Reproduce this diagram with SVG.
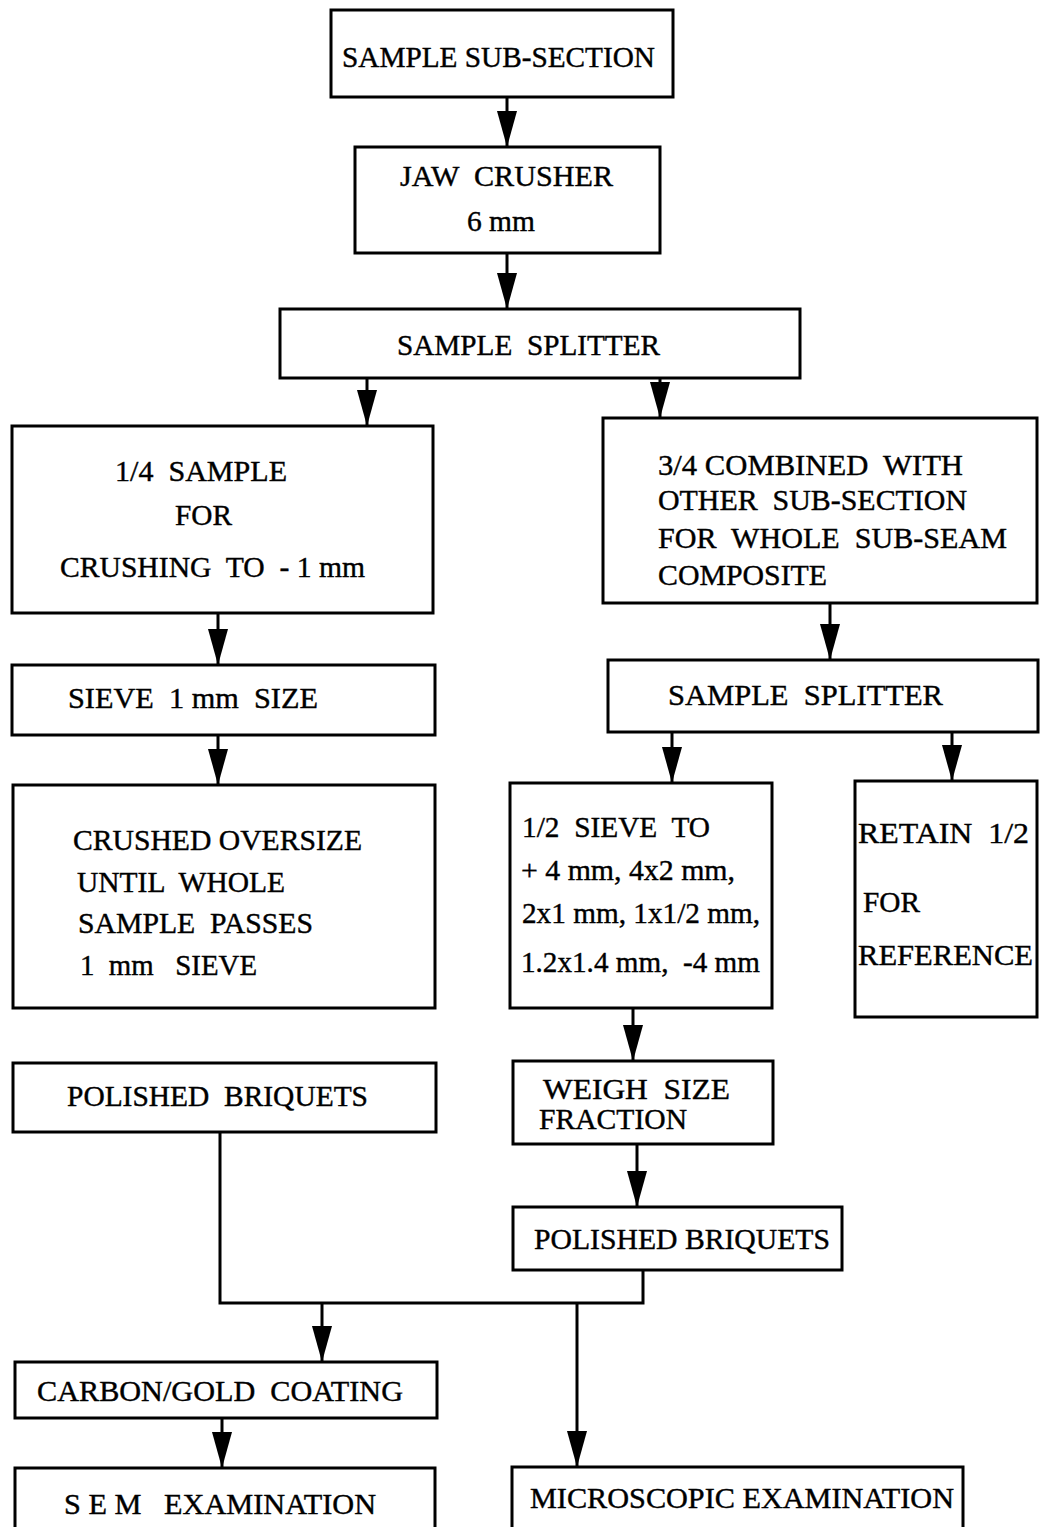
<svg xmlns="http://www.w3.org/2000/svg" width="1041" height="1527" viewBox="0 0 1041 1527">
<style>
  .box { fill: #fff; stroke: #000; stroke-width: 3; }
  .t { font-family: "Liberation Serif", "Times New Roman", serif; font-size: 30px; fill: #000; stroke: #000; stroke-width: 0.4; white-space: pre; }
  .con { fill: none; stroke: #000; stroke-width: 3; }
</style>
<defs>
  <marker id="ah" viewBox="0 0 36 20" refX="36" refY="10" markerWidth="36" markerHeight="20" markerUnits="userSpaceOnUse" orient="auto">
    <path d="M0,0 L36,10 L0,20 z" fill="#000"/>
  </marker>
</defs>
<rect width="1041" height="1527" fill="#fff"/>

<g id="connectors">
  <line class="con" x1="507" y1="97" x2="507" y2="147" marker-end="url(#ah)"/>
  <line class="con" x1="507" y1="253" x2="507" y2="309" marker-end="url(#ah)"/>
  <line class="con" x1="367" y1="378" x2="367" y2="426" marker-end="url(#ah)"/>
  <line class="con" x1="660" y1="378" x2="660" y2="418" marker-end="url(#ah)"/>
  <line class="con" x1="218" y1="613" x2="218" y2="665" marker-end="url(#ah)"/>
  <line class="con" x1="830" y1="603" x2="830" y2="660" marker-end="url(#ah)"/>
  <line class="con" x1="218" y1="735" x2="218" y2="785" marker-end="url(#ah)"/>
  <line class="con" x1="672" y1="732" x2="672" y2="783" marker-end="url(#ah)"/>
  <line class="con" x1="952" y1="732" x2="952" y2="781" marker-end="url(#ah)"/>
  <line class="con" x1="633" y1="1008" x2="633" y2="1061" marker-end="url(#ah)"/>
  <line class="con" x1="637" y1="1144" x2="637" y2="1207" marker-end="url(#ah)"/>
  <polyline class="con" points="220,1132 220,1303 643,1303 643,1270"/>
  <line class="con" x1="322" y1="1303" x2="322" y2="1362" marker-end="url(#ah)"/>
  <line class="con" x1="577" y1="1303" x2="577" y2="1467" marker-end="url(#ah)"/>
  <line class="con" x1="222" y1="1418" x2="222" y2="1468" marker-end="url(#ah)"/>
</g>

<g id="sample-sub-section">
  <rect class="box" x="331" y="10" width="342" height="87"/>
  <text class="t" x="342" y="67" textLength="313" lengthAdjust="spacingAndGlyphs">SAMPLE SUB-SECTION</text>
</g>
<g id="jaw-crusher">
  <rect class="box" x="355" y="147" width="305" height="106"/>
  <text class="t" x="400" y="186" textLength="213" lengthAdjust="spacingAndGlyphs">JAW  CRUSHER</text>
  <text class="t" x="467" y="231" textLength="68" lengthAdjust="spacingAndGlyphs">6 mm</text>
</g>
<g id="sample-splitter-1">
  <rect class="box" x="280" y="309" width="520" height="69"/>
  <text class="t" x="397" y="355" textLength="263" lengthAdjust="spacingAndGlyphs">SAMPLE  SPLITTER</text>
</g>
<g id="quarter-sample">
  <rect class="box" x="12" y="426" width="421" height="187"/>
  <text class="t" x="115" y="481" textLength="172" lengthAdjust="spacingAndGlyphs">1/4  SAMPLE</text>
  <text class="t" x="175" y="525" textLength="57" lengthAdjust="spacingAndGlyphs">FOR</text>
  <text class="t" x="60" y="577" textLength="305" lengthAdjust="spacingAndGlyphs">CRUSHING  TO  - 1 mm</text>
</g>
<g id="three-quarter">
  <rect class="box" x="603" y="418" width="434" height="185"/>
  <text class="t" x="658" y="475" textLength="305" lengthAdjust="spacingAndGlyphs">3/4 COMBINED  WITH</text>
  <text class="t" x="658" y="510" textLength="309" lengthAdjust="spacingAndGlyphs">OTHER  SUB-SECTION</text>
  <text class="t" x="658" y="548" textLength="349" lengthAdjust="spacingAndGlyphs">FOR  WHOLE  SUB-SEAM</text>
  <text class="t" x="658" y="585" textLength="169" lengthAdjust="spacingAndGlyphs">COMPOSITE</text>
</g>
<g id="sieve-1mm">
  <rect class="box" x="12" y="665" width="423" height="70"/>
  <text class="t" x="68" y="708" textLength="250" lengthAdjust="spacingAndGlyphs">SIEVE  1 mm  SIZE</text>
</g>
<g id="sample-splitter-2">
  <rect class="box" x="608" y="660" width="430" height="72"/>
  <text class="t" x="668" y="705" textLength="275" lengthAdjust="spacingAndGlyphs">SAMPLE  SPLITTER</text>
</g>
<g id="crushed-oversize">
  <rect class="box" x="13" y="785" width="422" height="223"/>
  <text class="t" x="73" y="850" textLength="289" lengthAdjust="spacingAndGlyphs">CRUSHED OVERSIZE</text>
  <text class="t" x="77" y="892" textLength="208" lengthAdjust="spacingAndGlyphs">UNTIL  WHOLE</text>
  <text class="t" x="78" y="933" textLength="235" lengthAdjust="spacingAndGlyphs">SAMPLE  PASSES</text>
  <text class="t" x="80" y="975" textLength="177" lengthAdjust="spacingAndGlyphs">1  mm   SIEVE</text>
</g>
<g id="half-sieve">
  <rect class="box" x="510" y="783" width="262" height="225"/>
  <text class="t" x="522" y="837" textLength="188" lengthAdjust="spacingAndGlyphs">1/2  SIEVE  TO</text>
  <text class="t" x="521" y="880" textLength="214" lengthAdjust="spacingAndGlyphs">+ 4 mm, 4x2 mm,</text>
  <text class="t" x="522" y="923" textLength="238" lengthAdjust="spacingAndGlyphs">2x1 mm, 1x1/2 mm,</text>
  <text class="t" x="521" y="972" textLength="239" lengthAdjust="spacingAndGlyphs">1.2x1.4 mm,  -4 mm</text>
</g>
<g id="retain-half">
  <rect class="box" x="855" y="781" width="182" height="236"/>
  <text class="t" x="858" y="843" textLength="171" lengthAdjust="spacingAndGlyphs">RETAIN  1/2</text>
  <text class="t" x="863" y="912" textLength="57" lengthAdjust="spacingAndGlyphs">FOR</text>
  <text class="t" x="858" y="965" textLength="175" lengthAdjust="spacingAndGlyphs">REFERENCE</text>
</g>
<g id="polished-briquets-1">
  <rect class="box" x="13" y="1063" width="423" height="69"/>
  <text class="t" x="67" y="1106" textLength="301" lengthAdjust="spacingAndGlyphs">POLISHED  BRIQUETS</text>
</g>
<g id="weigh-size-fraction">
  <rect class="box" x="513" y="1061" width="260" height="83"/>
  <text class="t" x="543" y="1099" textLength="187" lengthAdjust="spacingAndGlyphs">WEIGH  SIZE</text>
  <text class="t" x="539" y="1129" textLength="148" lengthAdjust="spacingAndGlyphs">FRACTION</text>
</g>
<g id="polished-briquets-2">
  <rect class="box" x="513" y="1207" width="329" height="63"/>
  <text class="t" x="534" y="1249" textLength="296" lengthAdjust="spacingAndGlyphs">POLISHED BRIQUETS</text>
</g>
<g id="carbon-gold-coating">
  <rect class="box" x="15" y="1362" width="422" height="56"/>
  <text class="t" x="37" y="1401" textLength="366" lengthAdjust="spacingAndGlyphs">CARBON/GOLD  COATING</text>
</g>
<g id="sem-examination">
  <rect class="box" x="15" y="1468" width="420" height="70"/>
  <text class="t" x="64" y="1514" textLength="312" lengthAdjust="spacingAndGlyphs">S E M   EXAMINATION</text>
</g>
<g id="microscopic-examination">
  <rect class="box" x="512" y="1467" width="451" height="70"/>
  <text class="t" x="530" y="1508" textLength="424" lengthAdjust="spacingAndGlyphs">MICROSCOPIC EXAMINATION</text>
</g>
</svg>
